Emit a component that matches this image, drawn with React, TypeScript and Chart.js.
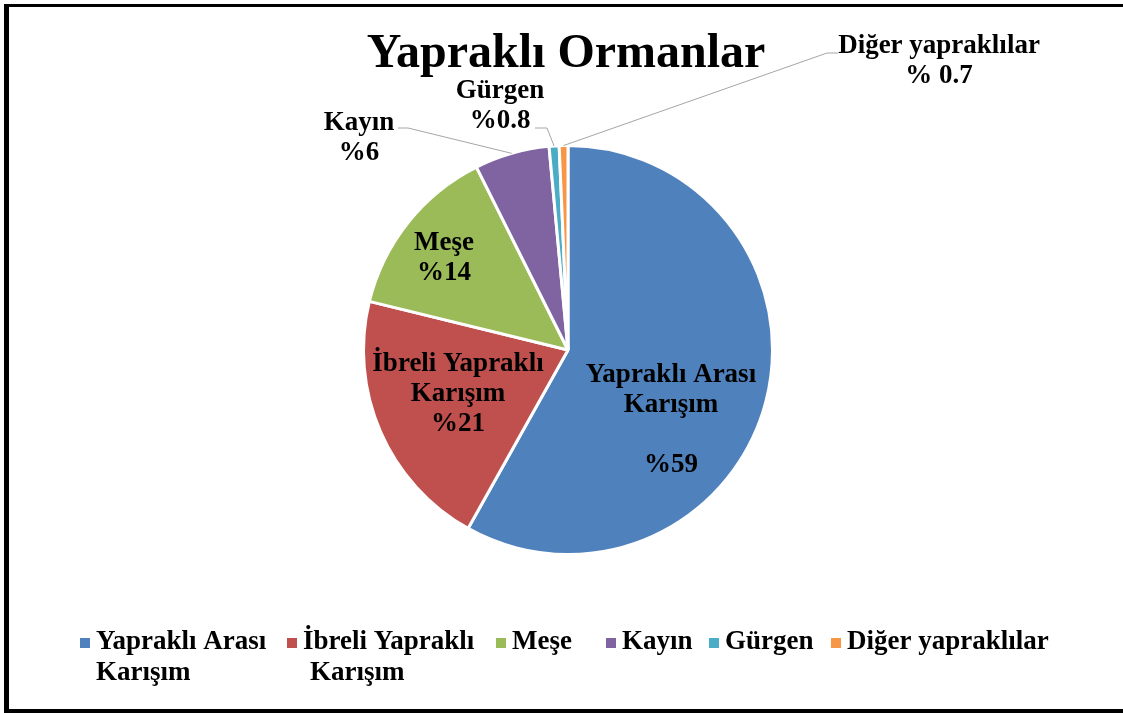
import React, { useEffect, useRef } from "react";
import { Chart, registerables } from "chart.js";

Chart.register(...registerables);

const TITLE = "Yapraklı Ormanlar";
const categories = [
  "Yapraklı Arası Karışım",
  "İbreli Yapraklı Karışım",
  "Meşe",
  "Kayın",
  "Gürgen",
  "Diğer yapraklılar",
];
const values = [59, 21, 14, 6, 0.8, 0.7];
const valueLabels = ["%59", "%21", "%14", "%6", "%0.8", "% 0.7"];
const colors = ["#4F81BD", "#C0504D", "#9BBB59", "#8064A2", "#4BACC6", "#F79646"];
// wrapped names used in the data labels and legend
const nameLines = [
  ["Yapraklı Arası", "Karışım"],
  ["İbreli Yapraklı", "Karışım"],
  ["Meşe"],
  ["Kayın"],
  ["Gürgen"],
  ["Diğer yapraklılar"],
];

const FONT = '"Liberation Serif", "Times New Roman", serif';

// label layout (offsets from pie centre, px): first line middle position
const labelLayout = [
  { dx: 103, dy: 25, gap: true },
  { dx: -110, dy: 14 },
  { dx: -124, dy: -107 },
  { dx: -209, dy: -227, leader: [-170, -222, -160, -222] },
  { dx: -68, dy: -258.5, leader: [-33, -222, -21, -222] },
  { dx: 371, dy: -304, leader: [270, -297, 259, -297] },
];
const legendTextX = [96, 303, 512, 622, 725, 847];

const decorPlugin = {
  id: "decor",
  beforeDraw(chart: any) {
    const ctx = chart.ctx;
    ctx.save();
    ctx.fillStyle = "#ffffff";
    ctx.fillRect(0, 0, chart.width, chart.height);
    ctx.fillStyle = "#000000";
    ctx.fillRect(4, 4, chart.width - 4, 3);
    ctx.fillRect(4, 4, 5, chart.height - 4);
    ctx.fillRect(4, chart.height - 4, chart.width - 4, 4);
    ctx.restore();
  },
  afterDatasetsDraw(chart: any) {
    const ctx = chart.ctx;
    const meta = chart.getDatasetMeta(0);
    ctx.save();
    // title
    ctx.fillStyle = "#000";
    ctx.textAlign = "center";
    ctx.textBaseline = "middle";
    ctx.font = `bold 48px ${FONT}`;
    ctx.fillText(TITLE, 566, 55);

    ctx.font = `bold 27px ${FONT}`;
    meta.data.forEach((arc: any, i: number) => {
      const p = arc.getProps(["x", "y", "startAngle", "endAngle", "outerRadius"], true);
      const lay = labelLayout[i];
      const lines = [...nameLines[i]];
      if (lay.gap) lines.push("");
      lines.push(valueLabels[i]);
      const tx = p.x + lay.dx;
      const ty = p.y + lay.dy;
      lines.forEach((ln, k) => {
        if (ln) ctx.fillText(ln, tx, ty + k * 30);
      });
      if (lay.leader) {
        const mid = (p.startAngle + p.endAngle) / 2;
        const ex = p.x + Math.cos(mid) * p.outerRadius;
        const ey = p.y + Math.sin(mid) * p.outerRadius;
        ctx.strokeStyle = "#A6A6A6";
        ctx.lineWidth = 1;
        ctx.beginPath();
        ctx.moveTo(p.x + lay.leader[0], p.y + lay.leader[1]);
        ctx.lineTo(p.x + lay.leader[2], p.y + lay.leader[3]);
        ctx.lineTo(ex, ey);
        ctx.stroke();
      }
    });

    // legend
    ctx.textAlign = "left";
    categories.forEach((_, i) => {
      const x = legendTextX[i];
      ctx.fillStyle = colors[i];
      ctx.fillRect(x - 16, 638, 10, 10);
      ctx.fillStyle = "#000";
      nameLines[i].forEach((ln, k) => {
        ctx.fillText(ln, x + (k > 0 && i === 1 ? 7 : 0), 642 + k * 31);
      });
    });
    ctx.restore();
  },
};

export default function App() {
  const ref = useRef<HTMLCanvasElement | null>(null);
  useEffect(() => {
    if (!ref.current) return;
    const chart = new Chart(ref.current, {
      type: "pie",
      data: {
        labels: categories,
        datasets: [
          {
            data: values,
            backgroundColor: colors,
            borderColor: "#ffffff",
            borderWidth: 3,
          },
        ],
      },
      options: {
        responsive: false,
        animation: false,
        devicePixelRatio: 1,
        layout: { padding: { left: 362, right: 349, top: 144, bottom: 157 } },
        plugins: {
          legend: { display: false },
          tooltip: { enabled: false },
          title: { display: false },
        },
      },
      plugins: [decorPlugin],
    } as any);
    return () => chart.destroy();
  }, []);
  return (
    <div style={{ position: "fixed", left: 0, top: 0, width: 1123, height: 713 }}>
      <canvas ref={ref} width={1123} height={713} style={{ display: "block" }} />
    </div>
  );
}
